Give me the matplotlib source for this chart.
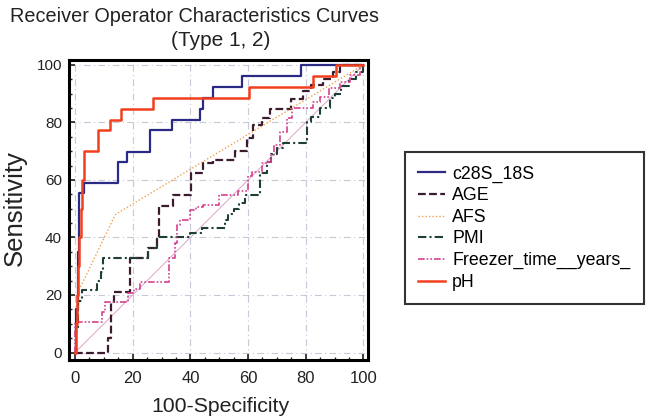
import matplotlib
matplotlib.use("Agg")
import matplotlib.pyplot as plt
from matplotlib.ticker import MultipleLocator

plt.rcParams['font.family'] = ['Liberation Sans', 'DejaVu Sans']

# ---- data (100-Specificity, Sensitivity) ----
c28S_x = [0, 0.5, 1.0, 1.5, 3.0, 15.0, 18.0, 26.0, 33.5, 43.3, 44.5, 48.0, 58.0, 78.5, 100]
c28S_y = [0, 15.0, 35.0, 55.4, 59.1, 66.4, 69.8, 77.4, 80.9, 84.6, 88.4, 92.2, 96.2, 100, 100]

age_x = [0, 11.5, 12.5, 13.5, 19.0, 25.3, 28.5, 29.0, 34.0, 40.2, 44.5, 48.0, 55.5, 59.5, 61.8,
         64.7, 67.6, 75.0, 79.0, 82.0, 86.0, 89.5, 92.0, 100]
age_y = [0, 5.0, 17.7, 21.1, 32.8, 36.2, 40.0, 50.9, 54.8, 62.3, 65.8, 67.0, 70.0, 74.5, 79.1,
         81.4, 84.6, 88.0, 91.0, 93.0, 95.0, 97.7, 100, 100]

afs_x = [0, 1.5, 14.0, 100]
afs_y = [0, 22.0, 48.0, 100]

pmi_x = [0, 0.5, 1.0, 2.5, 7.5, 9.0, 9.8, 25.3, 28.3, 40.0, 44.0, 52.0, 53.0, 55.0, 57.0, 59.0,
         64.1, 66.4, 68.0, 70.0, 72.0, 80.3, 82.0, 85.0, 88.4, 90.0, 92.4, 95.0, 97.6, 100]
pmi_y = [0, 8.0, 18.0, 21.7, 25.0, 28.0, 32.8, 36.2, 40.0, 41.5, 43.2, 46.1, 48.0, 50.0, 52.0, 54.8,
         62.3, 66.4, 69.0, 71.0, 72.8, 80.3, 82.0, 85.0, 88.4, 90.0, 92.5, 95.0, 97.7, 100]

frz_x = [0, 0, 9.2, 10.5, 18.5, 20.5, 22.5, 32.5, 34.5, 35.5, 36.3, 40.0, 42.0, 44.5, 50.0, 56.5,
         60.0, 61.3, 64.7, 66.4, 68.1, 69.0, 71.0, 73.4, 75.1, 82.6, 85.0, 88.0, 92.0, 95.3, 98.8, 100]
frz_y = [0, 10.7, 14.2, 17.7, 20.8, 22.0, 24.6, 32.8, 38.0, 44.4, 46.1, 49.6, 50.5, 51.3, 54.8, 56.0,
         61.2, 62.9, 65.8, 66.4, 68.5, 72.0, 76.5, 81.4, 84.9, 87.0, 89.0, 91.9, 94.0, 96.5, 100, 100]

ph_x = [0, 0.3, 0.6, 1.0, 1.5, 2.0, 2.5, 3.0, 8.0, 12.0, 16.0, 27.0, 60.5, 82.5, 90.5, 100]
ph_y = [0, 10.0, 20.0, 30.0, 40.0, 50.0, 60.0, 70.0, 77.5, 81.0, 84.6, 88.4, 92.2, 96.2, 100, 100]

series_names = ["c28S_18S", "AGE", "AFS", "PMI", "Freezer_time__years_", "pH"]
ticks = [0, 20, 40, 60, 80, 100]

W, H = 649, 420
fig = plt.figure(figsize=(W / 100, H / 100), dpi=100)
ax = fig.add_axes([69 / W, 1 - 360 / H, (368 - 69) / W, (360 - 60) / H])

ax.set_xlim(-2.1, 101.6)
ax.set_ylim(-2.6, 101.7)

# diagonal reference
ax.plot([0, 100], [0, 100], color='#d9a6c8', lw=0.7, zorder=2)

ax.plot(c28S_x, c28S_y, drawstyle='steps-post', color='#2b2b86', lw=1.6,
        label=series_names[0], zorder=4)
ax.plot(age_x, age_y, drawstyle='steps-post', color='#3d1b2e', lw=1.6,
        ls=(0, (3.5, 1.5)), label=series_names[1], zorder=4)
ax.plot(afs_x, afs_y, color='#f2a04a', lw=1.0, ls=(0, (1, 1.5)),
        label=series_names[2], zorder=4)
ax.plot(pmi_x, pmi_y, drawstyle='steps-post', color='#1e3f36', lw=1.5,
        ls=(0, (4, 1.5, 1, 1.5)), label=series_names[3], zorder=4)
ax.plot(frz_x, frz_y, drawstyle='steps-post', color='#d4428e', lw=1.2,
        ls=(0, (4, 1.2, 1, 1.2, 1, 1.2)), label=series_names[4], zorder=4)
ax.plot(ph_x, ph_y, drawstyle='steps-post', color='#f2401e', lw=1.8,
        label=series_names[5], zorder=5)

ax.set_xticks(ticks)
ax.set_yticks(ticks)
ax.xaxis.set_minor_locator(MultipleLocator(5))
ax.yaxis.set_minor_locator(MultipleLocator(5))
ax.tick_params(which='both', direction='in', top=False, right=False, color='#222222')
ax.tick_params(axis='x', which='major', labelsize=12, pad=8)
ax.tick_params(axis='y', which='major', labelsize=11, pad=5)
ax.tick_params(which='major', length=4, width=1.2)
ax.tick_params(which='minor', length=2.5, width=1.0)
for lab in ax.get_xticklabels() + ax.get_yticklabels():
    lab.set_color('#222222')
ax.grid(True, which='major', color='#c8c8d8', lw=0.8, ls=(0, (6, 3, 1, 3)), zorder=1)

for s in ax.spines.values():
    s.set_linewidth(2.2)
    s.set_color('black')

fig.text(194 / W, 1 - 17 / H, "Receiver Operator Characteristics Curves",
         ha='center', va='center', fontsize=14.3, color='#222222')
fig.text(221 / W, 1 - 40 / H, "(Type 1, 2)", ha='center', va='center',
         fontsize=15, color='#222222')
fig.text(220 / W, 1 - 406 / H, "100-Specificity", ha='center', va='center',
         fontsize=15.3, color='#222222')
fig.text(15 / W, 1 - 208 / H, "Sensitivity", ha='center', va='center',
         rotation=90, fontsize=18.5, color='#222222')

leg = fig.legend(loc='upper left', bbox_to_anchor=(405 / W, 1 - 152 / H),
                 fontsize=12.8, frameon=True, fancybox=False, handlelength=1.5,
                 handletextpad=0.4, labelspacing=0.26, borderpad=0.75, borderaxespad=0)
leg.get_frame().set_edgecolor('black')
leg.get_frame().set_linewidth(1.5)

fig.savefig("out.png", dpi=100)
